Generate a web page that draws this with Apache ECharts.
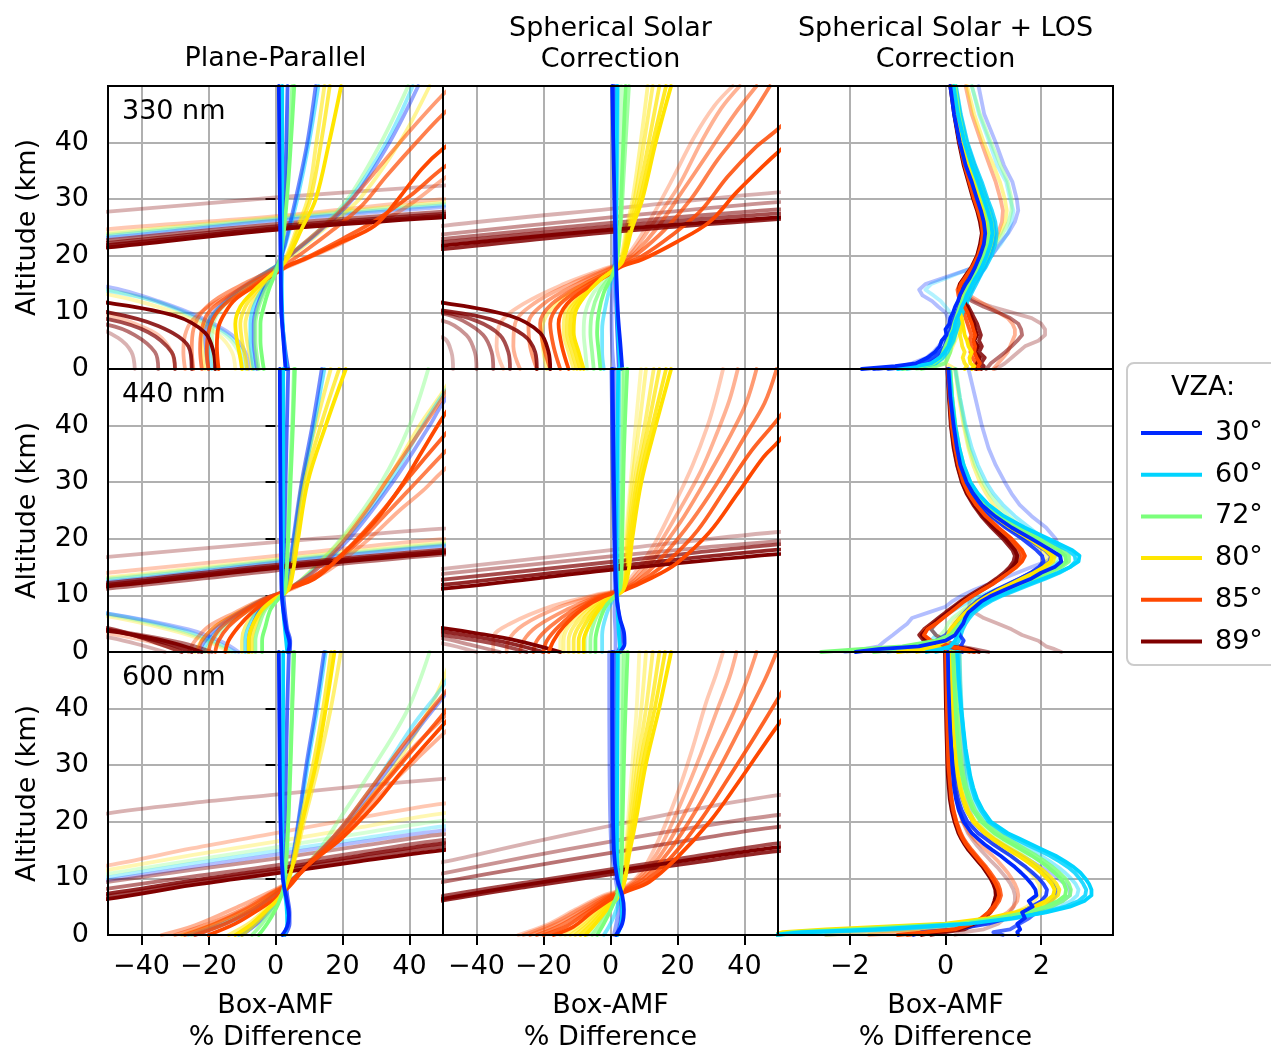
<!DOCTYPE html>
<html>
<head>
<meta charset="utf-8">
<script src="https://cdn.jsdelivr.net/npm/echarts@6/dist/echarts.min.js"></script>
<style>
html,body{margin:0;padding:0;background:#fff;}
#chart{width:1271px;height:1052px;}
</style>
</head>
<body>
<div id="chart"></div>
<script>
// ---- labels and ticks ----
const VZA_LABELS = {30:'30°', 60:'60°', 72:'72°', 80:'80°', 85:'85°', 89:'89°'};
const VZA_ORDER = [30, 60, 72, 80, 85, 89];
const COLUMN_TITLES = ['Plane-Parallel', 'Spherical Solar\nCorrection', 'Spherical Solar + LOS\nCorrection'];
const ROW_LABELS = ['330 nm', '440 nm', '600 nm'];
const X_NAME = 'Box-AMF\n% Difference';
const Y_NAME = 'Altitude (km)';
const ALT_TICKS = [0, 10, 20, 30, 40];
const DIFF_TICKS = [-40, -20, 0, 20, 40];
const LOS_TICKS = [-2, 0, 2];

// Each line: [VZA, SZA, [[% difference, altitude km], ...]]
const PP_330 = [
  [89,30,[[-18,0],[-18.5,3],[-21,6.4],[-30,9.4],[-50,11.7],[-80,14],[-95,19],[-50,21.5],[0,24.6],[50,26.8],[90,28.2]]],
  [89,60,[[-25,0],[-26,4],[-35,7.6],[-50,10],[-80,12.5],[-95,19.5],[-50,21.9],[0,24.9],[50,27.1],[90,28.5]]],
  [89,72,[[-30,0],[-31,3],[-38,6.5],[-50,8.8],[-80,11.5],[-95,19.8],[-50,22.3],[0,25.2],[50,27.4],[90,28.8]]],
  [89,80,[[-35,0],[-36,3],[-42,6],[-50,7.8],[-80,10.5],[-95,20],[-50,22.8],[0,25.6],[50,27.8],[90,29.2]]],
  [89,89,[[-42,0],[-43,3],[-47,5.5],[-55,7.5],[-95,12],[-95,26],[-50,27.8],[0,30.3],[50,32.4],[90,33.8]]],
  [85,30,[[-17,0],[-17.5,4],[-17,7.5],[-15,10],[-12,12.3],[-6,14.7],[0,16.9],[3.6,18.2],[8.6,19.4],[19.6,22.4],[29.6,25.3],[36.6,30],[43.6,35.3],[50,38.9],[62,44],[75,50]]],
  [85,60,[[-20,0],[-20.5,3],[-20,6.5],[-18,9.5],[-14,12],[-7,14.6],[0,17.1],[3.5,18.2],[9,19.6],[20,23],[30,26.3],[40,30.5],[50,35.5],[70,44]]],
  [85,72,[[-22,0],[-22.5,3.5],[-22,7],[-20,10],[-15,12.5],[-8,15],[0,17.4],[3,18.5],[8,20.5],[17,24.5],[26,29],[33,34],[42,40],[50,45],[60,50]]],
  [85,80,[[-24.5,0],[-25,3.5],[-24.5,7],[-22,10],[-17,12.6],[-9,15.2],[-1,17.5],[2,18.8],[6,21],[14,25],[22,29.5],[30,35],[40,42],[50,48.5],[53,50]]],
  [85,85,[[-27,0],[-27.5,3],[-27,6],[-25,8.5],[-20,11],[-10,14.2],[0,17],[3.5,18],[9,19.4],[20,22.3],[30,25.5],[40,29],[50,33.5],[70,42]]],
  [85,89,[[-30,0],[-31,3],[-35,6],[-42,8],[-50,9.5],[-80,12],[-95,22],[-50,24.7],[0,27],[50,30],[90,31.5]]],
  [80,30,[[-10,0],[-10.5,2],[-11.5,5],[-12,8],[-10.5,11],[-7,13.5],[-2.5,16],[1.5,18],[4,20],[8,25],[12,30],[16,40],[19.6,50]]],
  [80,72,[[-8.5,0],[-9,2],[-10,5],[-10.5,8],[-9,11],[-6,13.5],[-2,16],[1.3,18],[3.6,20],[7,25],[10.4,30],[13.6,40],[16.2,50]]],
  [80,80,[[-7,0],[-7.5,2],[-8.5,5],[-9,8],[-7.5,11],[-5,13.5],[-1.8,16],[1.2,18],[3.3,20],[6.5,25],[9.6,30],[12.2,40],[14.6,50]]],
  [80,85,[[-21,0],[-21.5,2],[-22,6],[-19.5,9],[-15.5,11.5],[-10.5,14],[-4.5,16.5],[1,18.5],[6,20.5],[14,24.5],[25,30],[37,40],[46,50]]],
  [80,89,[[-12,0],[-13,3],[-17,6],[-26,9],[-38,11.5],[-50,13.2],[-80,16],[-95,21],[-50,24],[0,26.8],[50,29.5],[90,31]]],
  [72,30,[[-3.5,0],[-4,2],[-4.5,5],[-4.5,8],[-3.5,11],[-2,14],[0,17],[1.6,20],[3.4,30],[4.6,40],[5.6,50]]],
  [72,72,[[-5,0],[-5.5,2],[-6,5],[-6,8],[-5,11],[-3,14],[-0.5,17],[1.6,20],[3,30],[4,40],[5,50]]],
  [72,85,[[-18,0],[-18.5,2],[-19,6],[-18,9],[-15,11.5],[-10,14],[-4,16.5],[1,18.5],[5,20.5],[12,24],[21.5,30],[31.5,40],[39.6,50]]],
  [72,89,[[-10,0],[-11,3],[-15,6],[-24,9],[-36,12],[-50,14],[-80,17],[-95,21],[-50,23.8],[0,26.6],[50,29.2],[90,30.6]]],
  [60,30,[[3.3,0],[2.6,4],[2,10],[1.8,20],[2,35],[2,50]]],
  [60,80,[[-6.5,0],[-7,2],[-7.5,5],[-7.5,8],[-6.5,11],[-4,14],[-1,16.5],[1.2,19],[3,22],[6.5,30],[10,40],[12.8,50]]],
  [60,85,[[-19,0],[-19.5,2],[-20,6],[-19,9],[-15.5,11.5],[-10.5,14],[-4,16.5],[1,18.5],[5,20.5],[12.2,24],[22.2,30],[33,40],[41,50]]],
  [60,89,[[-9,0],[-10,3],[-14,6],[-23,9],[-36,12],[-50,13.8],[-80,16.5],[-95,21],[-50,23.5],[0,26.4],[50,28.9],[90,30.3]]],
  [30,30,[[3,0],[2.5,4],[1.8,10],[1.5,20],[1.2,35],[1,50]]],
  [30,72,[[3.8,0],[2.8,4],[1.6,12],[2,20],[3,35],[3.6,50]]],
  [30,80,[[-5.5,0],[-6,2],[-6.5,5],[-6.5,8],[-5.5,11],[-3.5,14],[-1,16.5],[1,19],[2.8,22],[6,30],[9.5,40],[12,50]]],
  [30,85,[[-20,0],[-20.5,2],[-21,6],[-19.5,9],[-16,11.5],[-11,14],[-4.5,16.5],[1,18.5],[5.2,20.5],[12.5,24],[23,30],[34,40],[42.6,50]]],
  [30,89,[[-8,0],[-9,3],[-13,6],[-22,9],[-35,12],[-50,14.5],[-80,17],[-95,21],[-50,23.2],[0,26.2],[50,28.6],[90,30]]]
];

const PP_440 = [
  [89,30,[[-22,0],[-30,1.5],[-40,2.8],[-50,3.7],[-80,6],[-95,9.5],[-50,11.6],[0,14.8],[50,17.5],[90,19]]],
  [89,60,[[-25,0],[-33,1.6],[-42,2.9],[-50,3.9],[-80,6.2],[-95,9.7],[-50,11.9],[0,15.1],[50,17.8],[90,19.3]]],
  [89,72,[[-28,0],[-36,1.7],[-50,4.2],[-80,6.5],[-95,10],[-50,12.2],[0,15.4],[50,18.1],[90,19.6]]],
  [89,80,[[-19,0],[-28,1.6],[-40,3],[-50,3.9],[-80,6],[-95,9.3],[-50,11.2],[0,14.4],[50,17.2],[90,18.7]]],
  [89,89,[[-33,0],[-42,1.5],[-50,2.6],[-80,5],[-95,14],[-50,16.8],[0,19.4],[50,21.8],[90,23]]],
  [85,30,[[-15,0],[-14,2],[-11,4.5],[-7,7],[-2,9.3],[2,10.5],[4,11.2],[11.6,12.9],[19.6,17],[29.6,23],[37.6,29.4],[43.6,35.3],[50,41.5],[60,50]]],
  [85,60,[[-18,0],[-17,2],[-14,4.5],[-9,7],[-3,9.3],[2,10.5],[5,11.5],[13,14],[22,18.5],[32,25],[40,31],[50,38],[65,48]]],
  [85,72,[[-20,0],[-19,2],[-16,4.5],[-10,7],[-3,9.3],[2,10.5],[6,11.6],[14,14.2],[24,19],[34,25],[42,30],[50,35],[70,47]]],
  [85,80,[[-23,0],[-22,2],[-18,4.5],[-11,7],[-3,9.5],[2,10.6],[5,11.6],[11,14],[18,18],[26,24],[34,31],[42,38],[50,45],[55,50]]],
  [85,85,[[-26,0],[-24,2],[-20,4.5],[-12,7],[-4,9.3],[2,10.5],[7,11.7],[16,14.5],[27,19.5],[37,25],[44,28.5],[50,32],[75,45]]],
  [85,89,[[-28,0],[-36,1.6],[-50,3.3],[-80,6],[-95,11.5],[-50,14],[0,17],[50,20],[90,21.5]]],
  [80,30,[[-8,0],[-8,2],[-7,4.5],[-4,7.5],[0,9.5],[3,10.5],[4.5,12],[6.6,19.4],[9.6,30],[15,40],[21,50]]],
  [80,72,[[-7,0],[-7,2],[-6,4.5],[-3.5,7.5],[0,9.5],[3,10.5],[4.2,12],[6,19.4],[8.8,30],[13.5,40],[19,50]]],
  [80,80,[[-10,0],[-10,2],[-9,4.5],[-5.5,7.5],[-0.5,9.5],[2.8,10.5],[4,12],[5.6,19.4],[8,30],[12,40],[16.5,50]]],
  [80,85,[[-24,0],[-22,2],[-18,4.5],[-11,7],[-3,9.5],[2,10.5],[5,11.5],[10,14],[20,20],[33,30],[43,40],[50,46],[54,50]]],
  [80,89,[[-14,0],[-20,1.8],[-32,4],[-50,6.3],[-80,8.5],[-95,11],[-50,13.2],[0,16.4],[50,19.3],[90,20.8]]],
  [72,30,[[-4,0],[-4,2],[-3,4.5],[-1.5,7.5],[1,9.5],[2.6,10.5],[3.2,13],[3.8,20],[4.5,30],[5.2,40],[5.8,50]]],
  [72,72,[[-6,0],[-6,2],[-5,4.5],[-3,7.5],[0.5,9.5],[2.5,10.5],[3,13],[3.6,20],[4.2,30],[5,40],[5.5,50]]],
  [72,85,[[-21,0],[-19,2],[-15,4.5],[-9,7],[-2,9.5],[2,10.5],[5,11.5],[10,14],[19.6,20],[31.6,30],[40,40],[45.6,50]]],
  [72,89,[[-13,0],[-19,1.8],[-30,4],[-50,6.6],[-80,9],[-95,11],[-50,13],[0,16.2],[50,19.1],[90,20.6]]],
  [60,30,[[3.5,0],[3,3],[2.2,8],[2,11],[2.2,20],[2.3,35],[2.3,50]]],
  [60,80,[[-9,0],[-9,2],[-8,4.5],[-5,7.5],[-0.5,9.5],[2.6,10.5],[3.8,12],[5.4,19.4],[8.2,30],[11.5,40],[14.6,50]]],
  [60,85,[[-22,0],[-20,2],[-16,4.5],[-10,7],[-2.5,9.5],[2,10.5],[5,11.5],[10.5,14],[21,20],[34,30],[44,40],[50,45.5],[56,50]]],
  [60,89,[[-12,0],[-18,1.8],[-28,4],[-50,6.8],[-80,9],[-95,11],[-50,12.8],[0,16],[50,18.9],[90,20.4]]],
  [30,30,[[3.8,0],[4.2,1.5],[3.2,4],[2.2,8],[1.8,11],[1.6,20],[1.4,35],[1.3,50]]],
  [30,72,[[4.3,0],[4.4,2],[3.5,4],[2.5,9],[2.2,12],[2.6,20],[3.2,35],[3.8,50]]],
  [30,80,[[-8,0],[-8,2],[-7,4.5],[-4.5,7.5],[-0.5,9.5],[2.6,10.5],[3.6,12],[5.2,19.4],[7.8,30],[11,40],[13.8,50]]],
  [30,85,[[-23,0],[-21,2],[-17,4.5],[-10.5,7],[-3,9.5],[2,10.5],[5,11.5],[11,14],[22,20],[35,30],[46,40],[50,44],[58,50]]],
  [30,89,[[-11,0],[-16,1.8],[-26,4],[-50,6.8],[-80,9],[-95,10.8],[-50,12.4],[0,15.8],[50,18.7],[90,20.2]]]
];

const PP_600 = [
  [89,30,[[-95,3],[-50,6.4],[-25,8.8],[0,10.9],[25,13],[50,15],[90,17.5]]],
  [89,60,[[-95,4],[-50,7.3],[-25,9.6],[0,11.7],[25,14],[50,16.2],[90,18.5]]],
  [89,72,[[-95,3.5],[-50,6.9],[-25,9.2],[0,11.3],[25,13.5],[50,15.6],[90,18]]],
  [89,80,[[-95,4.5],[-50,8.2],[-25,10.3],[0,12.3],[25,14.6],[50,16.8],[90,19]]],
  [89,85,[[-95,5.5],[-50,9.4],[-25,11.5],[0,13.5],[25,15.7],[50,17.8],[90,20]]],
  [89,89,[[-95,17],[-50,21.5],[-25,23.3],[0,24.8],[25,26.3],[50,27.6],[90,29.5]]],
  [85,89,[[-95,8],[-50,12.3],[-25,15.3],[0,18],[25,20.7],[50,23.2],[90,26]]],
  [80,89,[[-95,7],[-50,11.5],[-25,14.1],[0,16.5],[25,19],[50,21.5],[90,24]]],
  [72,89,[[-95,6.5],[-50,10.8],[-25,13.2],[0,15.5],[25,17.9],[50,20.2],[90,22.5]]],
  [60,89,[[-95,6],[-50,10.2],[-25,12.6],[0,14.8],[25,17],[50,19.2],[90,21.5]]],
  [30,89,[[-95,5.5],[-50,9.7],[-25,12],[0,14.2],[25,16.4],[50,18.5],[90,20.8]]],
  [85,30,[[-20,0],[-12,2],[-5,4.5],[0,6.5],[4,8.5],[9.6,12.3],[19.6,17],[29.6,23],[37.6,28.8],[50,37.1],[65,47]]],
  [85,60,[[-24,0],[-15,2],[-7,4.5],[-1,6.8],[4,9],[10,12.5],[20,18],[30,25],[40,32],[50,39],[62,48]]],
  [85,72,[[-27,0],[-18,2],[-9,4.5],[-2,7],[4,9.2],[10,12.8],[19,18.5],[28,25.5],[38,33.5],[50,42.4],[58,48]]],
  [85,80,[[-30,0],[-20,2],[-10,4.5],[-2.5,7],[4,9.3],[11,13],[21,19],[31,26],[41,33],[50,38.3],[66,48]]],
  [85,85,[[-34,0],[-24,1.7],[-10,5.3],[-2,7.5],[4,9.4],[12,13.2],[22,19],[32,25.2],[42,31],[50,35.5],[70,46]]],
  [80,30,[[-12,0],[-7,2],[-2.5,4.5],[1,6.5],[3,8.5],[5,12],[8,20],[12,30],[15,40],[17.6,50]]],
  [80,72,[[-10,0],[-6,2],[-2,4.5],[1.2,6.5],[3,8.5],[4.8,12],[7.5,20],[11.2,30],[14.2,40],[16.6,50]]],
  [80,80,[[-14,0],[-8,2],[-3,4.5],[0.8,6.5],[3,8.5],[5.2,12],[8.5,20],[12.8,30],[16.5,40],[19.5,50]]],
  [80,85,[[-28,0],[-18,2],[-8,4.5],[-1.5,7],[3.5,9],[9,12],[18,17.5],[28,24],[38,32],[46,40],[50,45],[53,50]]],
  [72,30,[[-5,0],[-2.5,2],[0,4.5],[1.5,6.5],[2.5,8.5],[3,12],[3.8,20],[4.5,30],[5,40],[5.6,50]]],
  [72,72,[[-7,0],[-4,2],[-1,4.5],[1,6.5],[2.5,8.5],[3.2,12],[3.8,20],[4.3,30],[4.9,40],[5.3,50]]],
  [72,85,[[-25,0],[-15,2],[-6,4.5],[-0.5,7],[4,9.3],[8.5,12],[13,15],[18.6,20],[29.6,30],[39.6,40],[46,50]]],
  [60,30,[[2.5,0],[3.5,2],[3.3,5],[2.5,9],[2,15],[2.2,30],[2.3,50]]],
  [60,80,[[-11,0],[-6,2],[-2,4.5],[1,6.5],[3,8.5],[4.8,12],[7,20],[9.6,30],[12.5,40],[15,50]]],
  [60,85,[[-26,0],[-16,2],[-7,4.5],[-1,7],[4,9.3],[9,12],[19,18.5],[31,28],[41,37],[50,44],[56,50]]],
  [30,30,[[2,0],[3.5,1.5],[4,3.5],[3.4,6],[2.2,10],[1.5,20],[1.2,35],[1,50]]],
  [30,72,[[2.8,0],[4.2,2],[4.2,4],[3.5,7],[2.8,12],[3,25],[3.5,40],[4,50]]],
  [30,80,[[-10,0],[-5.5,2],[-1.5,4.5],[1.2,6.5],[3,8.5],[4.6,12],[6.8,20],[9.2,30],[12,40],[14.5,50]]],
  [30,85,[[-24,0],[-15,2],[-6,4.5],[-0.5,7],[4,9.3],[9,12],[20,19],[32,28],[42,36],[50,42],[58,48]]]
];

const SS_330 = [
  [89,30,[[-18,0],[-18.5,3],[-21,6.4],[-30,9.4],[-50,11.7],[-80,14],[-95,19],[-50,21.8],[0,24.6],[50,26.8],[90,28.2]]],
  [89,60,[[-22,0],[-22.5,3],[-26,6],[-36,8.8],[-50,10.3],[-80,12.5],[-95,19],[-50,21.2],[0,24.2],[50,26.5],[90,27.9]]],
  [89,72,[[-30,0],[-30.5,3],[-33,6],[-40,8.5],[-50,10],[-80,12],[-95,20],[-50,22.4],[0,25.2],[50,27.5],[90,28.9]]],
  [89,80,[[-35,0],[-35.5,3],[-38,6],[-44,8.5],[-50,9.8],[-80,12],[-95,20.5],[-50,23],[0,25.8],[50,28.2],[90,29.6]]],
  [89,85,[[-40,0],[-40.5,3],[-43,6],[-50,8.5],[-80,11],[-95,21],[-50,23.8],[0,26.8],[50,29.5],[90,31]]],
  [89,89,[[-47,0],[-47.5,3],[-50,5.5],[-80,9],[-95,22],[-50,25.3],[0,28.3],[50,31.2],[90,32.6]]],
  [85,30,[[-12.5,0],[-14.5,4],[-15.5,8],[-13,11.5],[-6,14.7],[0,16.9],[3.6,18.2],[9.6,19.4],[19.6,22.4],[29.6,26],[37.6,31.2],[45.6,35.9],[50,38.3],[65,46]]],
  [85,60,[[-15,0],[-17,4],[-18,8],[-15,11.5],[-7,14.8],[0,17.1],[3.5,18.3],[9,19.8],[18,23.5],[27,28],[35,34],[43,39],[50,42.4],[58,47]]],
  [85,72,[[-18,0],[-20,4],[-21,8],[-17.5,11.5],[-8,15],[0,17.3],[3.2,18.4],[8,20.3],[16,24.5],[24,30],[32,37],[40,43],[47.6,50]]],
  [85,80,[[-22,0],[-24,4],[-24.5,8],[-20,11.5],[-10,15],[-1,17.5],[3,18.5],[7.5,20.6],[14,25],[21,31],[29,38],[37,45],[43.6,50]]],
  [85,85,[[-27,0],[-29,4],[-28.5,8],[-23,11.5],[-12,15],[-1.5,17.6],[2.8,18.6],[7,21],[13,26],[20,32],[27,40],[33,46],[38.6,50]]],
  [85,89,[[-32,0],[-34,4],[-33,8],[-26,11.5],[-14,15],[-2,17.7],[2.6,18.7],[6.5,21.2],[12,26.5],[18,33],[25,41],[31,46.5],[36.5,50]]],
  [80,30,[[-8,0],[-9.5,3],[-11,6.5],[-10.5,10],[-7.5,13],[-3,15.8],[1,17.5],[3.6,19],[6.5,25],[9.5,30],[13.5,40],[18.1,50]]],
  [80,60,[[-9,0],[-10.5,3],[-12,6.5],[-11.5,10],[-8,13],[-3,15.8],[1,17.5],[3.4,19],[6,25],[8.8,30],[12.6,40],[16.6,50]]],
  [80,72,[[-10,0],[-11.5,3],[-13,6.5],[-12.5,10],[-8.5,13],[-3.5,15.8],[0.8,17.5],[3.2,19],[5.6,25],[8,30],[11.4,40],[14.6,50]]],
  [80,80,[[-11,0],[-12.5,3],[-14,6.5],[-13.5,10],[-9,13],[-3.5,15.8],[0.8,17.5],[3,19],[5.2,25],[7.2,30],[10,40],[12.6,50]]],
  [80,85,[[-19,0],[-20,3],[-20.5,6.5],[-18.5,10],[-12,13.5],[-4.5,16],[0.5,17.6],[2.8,19],[4.8,25],[6.6,30],[9,40],[11.1,50]]],
  [72,30,[[-3,0],[-3.5,3],[-4,6.5],[-3.5,10],[-2,13.5],[0.5,16.5],[1.8,19],[2.8,25],[3.5,35],[4.5,50]]],
  [72,72,[[-5,0],[-5.5,3],[-6,6.5],[-5.5,10],[-3.5,13.5],[0,16.5],[1.8,19],[3,25],[4,35],[5.5,50]]],
  [72,85,[[-7,0],[-7.5,3],[-8,6.5],[-7.5,10],[-5,13.5],[-0.5,16.5],[1.8,19],[2.5,25],[3,35],[3.2,50]]],
  [60,30,[[3,0],[2.5,4],[2,10],[1.6,20],[1.8,35],[2,50]]],
  [60,80,[[-2,0],[-2.5,3],[-2.5,7],[-1.5,11],[0,15],[1.4,19],[1.8,30],[2.2,50]]],
  [30,30,[[3.5,0],[3,4],[2.2,10],[1.6,20],[1,35],[0.5,50]]],
  [30,72,[[2.5,0],[2.2,4],[1.8,10],[1.4,20],[1.2,35],[1,50]]],
  [30,85,[[1,0],[0.5,4],[0.3,10],[1,18],[1.2,35],[1.5,50]]]
];

const SS_440 = [
  [89,30,[[-15,0],[-28,2],[-40,3.3],[-50,4.2],[-80,6.5],[-95,9.3],[-50,11.2],[0,14.5],[50,17.3],[90,18.8]]],
  [89,60,[[-20,0],[-32,1.8],[-50,3.6],[-80,6],[-95,9.7],[-50,11.9],[0,15.1],[50,18.1],[90,19.6]]],
  [89,72,[[-25,0],[-36,1.6],[-50,3],[-80,5.5],[-95,10.3],[-50,12.8],[0,15.9],[50,19],[90,20.5]]],
  [89,85,[[-33,0],[-42,1.3],[-50,2.4],[-80,5],[-95,11.2],[-50,13.8],[0,16.9],[50,19.6],[90,21]]],
  [89,89,[[-40,0],[-50,1.5],[-80,4],[-95,12],[-50,14.7],[0,18],[50,21.2],[90,22.7]]],
  [85,30,[[-18.4,0],[-17,2],[-14,4.5],[-8.4,7.6],[-2,9.8],[3.6,10.8],[11.6,12.9],[19.6,15.6],[29.6,21.2],[37.6,27.7],[45.6,34.4],[50,37.1],[65,48]]],
  [85,60,[[-20,0],[-19,2],[-15.5,4.5],[-9.5,7.5],[-2.5,9.8],[3.6,10.8],[11,13.2],[18,16.5],[26,21.5],[34,28.5],[42,35.5],[50,41.2],[57,47]]],
  [85,72,[[-23,0],[-22,2],[-18,4.5],[-11,7.5],[-3,9.8],[3.4,10.9],[10,13.5],[16.5,17.5],[24,23],[32,30],[40,38],[46,44],[49.6,50]]],
  [85,80,[[-27,0],[-26,2],[-22,4.5],[-13,7.5],[-3.5,9.9],[3.2,11],[9.5,14],[15.5,18.5],[22,24],[29,31],[36,38.5],[40.5,44],[43.6,50]]],
  [85,85,[[-31,0],[-30.5,2],[-26,4.8],[-15,8],[-4,10],[3,11.1],[9,14.5],[14.5,19],[20.5,25],[27,32],[32,39],[35.5,44.5],[38,50]]],
  [85,89,[[-35,0],[-35,2.5],[-30,5],[-17,8.2],[-4.5,10.1],[2.8,11.2],[8.5,15],[13.5,19.5],[19,26],[24.5,33],[29,40],[31.5,45],[33.6,50]]],
  [80,30,[[-8,0],[-8,2],[-6.5,4.5],[-3.5,7.5],[0.5,9.6],[3.6,10.8],[5.3,14],[6.5,20],[9.2,30],[13.5,40],[18.1,50]]],
  [80,60,[[-9.5,0],[-9.5,2],[-8,4.5],[-4.5,7.5],[0,9.6],[3.5,10.8],[5,14],[6,20],[8.5,30],[12.5,40],[16.6,50]]],
  [80,72,[[-11,0],[-11,2],[-9.5,4.5],[-5.5,7.5],[-0.5,9.6],[3.4,10.8],[4.8,14],[5.6,20],[7.8,30],[11.3,40],[14.6,50]]],
  [80,80,[[-12.5,0],[-12.5,2],[-11,4.5],[-6.5,7.5],[-1,9.7],[3.3,10.8],[4.6,14],[5.2,20],[7.2,30],[10.2,40],[12.9,50]]],
  [80,85,[[-14,0],[-14,2],[-12.5,4.5],[-7.5,7.5],[-1.5,9.7],[3.2,10.8],[4.4,14],[4.9,20],[6.4,30],[8.6,40],[10.6,50]]],
  [80,89,[[-15,0],[-15,2],[-13.5,4.5],[-8.5,7.5],[-2,9.8],[3.1,10.9],[4.2,14],[4.6,20],[6,30],[7.5,40],[9.1,50]]],
  [72,30,[[-4.5,0],[-4.5,2],[-3.5,5],[-1.5,8],[1.5,10],[3,11.5],[3.5,20],[4,35],[5,50]]],
  [72,72,[[-6,0],[-6,2],[-5,5],[-2.5,8],[1,10],[2.8,11.5],[3.2,20],[3.6,35],[4,50]]],
  [72,85,[[-7.5,0],[-7.5,2],[-6.5,5],[-3.5,8],[0.5,10],[2.6,11.5],[3,20],[3.3,35],[3.5,50]]],
  [60,30,[[3,0],[2.4,4],[2,10],[1.8,20],[2,35],[2.3,50]]],
  [60,80,[[-2.5,0],[-2.5,3],[-1,7],[1.2,10],[2.2,12],[2.3,20],[2.4,35],[2.6,50]]],
  [30,30,[[2.8,0],[4.2,1.5],[4,3.5],[2.8,6],[1.8,10],[1.3,20],[0.9,35],[0.6,50]]],
  [30,72,[[2.2,0],[3.2,2],[3.2,4],[2.4,7],[1.6,11],[1.1,20],[0.6,35],[0.3,50]]],
  [30,85,[[1.5,0],[1.5,3],[1.2,7],[1.2,11],[1.2,20],[1.2,35],[1.3,50]]]
];

const SS_600 = [
  [89,30,[[-95,1.5],[-50,6.4],[-25,8.9],[0,11.2],[25,13.4],[50,15.5],[90,17.5]]],
  [89,60,[[-95,1.2],[-50,6.1],[-25,8.5],[0,10.7],[25,12.8],[50,14.8],[90,16.8]]],
  [89,72,[[-95,2],[-50,6.9],[-25,9.3],[0,11.6],[25,13.9],[50,16.2],[90,18.3]]],
  [89,80,[[-95,4.5],[-50,9.4],[-25,12],[0,14.5],[25,16.9],[50,19.1],[90,21.5]]],
  [89,85,[[-95,6],[-50,10.9],[-25,13.8],[0,16.5],[25,19],[50,21.2],[90,23.5]]],
  [89,89,[[-95,8],[-50,12.9],[-25,16.2],[0,19.3],[25,22.2],[50,24.7],[90,27.5]]],
  [85,30,[[-17,0],[-11,1.5],[-5.4,4.1],[0,6.3],[4,7.5],[11.6,9.4],[19.6,13.5],[29.6,20],[37.6,26.5],[50,37.1],[64,48]]],
  [85,60,[[-20,0],[-13,1.6],[-6.5,4.2],[-0.5,6.5],[4,7.7],[11,9.8],[18.5,14],[27.5,20.8],[35.5,28],[43,35],[50,41.8],[56,48]]],
  [85,72,[[-22,0],[-15,1.7],[-7.5,4.3],[-1,6.6],[3.8,7.8],[10.5,10.2],[17.5,14.8],[25.5,22],[33,30],[40,38],[46,45],[49.6,50]]],
  [85,80,[[-24,0],[-16.5,1.8],[-8.5,4.4],[-1.5,6.7],[3.6,7.9],[10,10.5],[16.5,15.5],[23.5,23],[30,31],[36.5,39],[41,45.5],[43.6,50]]],
  [85,85,[[-26,0],[-18,1.8],[-9.5,4.5],[-2,6.8],[3.4,8],[9.5,10.8],[15.5,16.2],[21.5,24],[27,32],[32,40],[35.5,45.5],[37.6,50]]],
  [85,89,[[-27.5,0],[-19,1.8],[-10.5,4.5],[-2.5,6.9],[3.2,8.1],[9,11],[14.5,17],[20,25],[24.5,33],[28.5,41],[31.5,46],[33.6,50]]],
  [80,30,[[-7.5,0],[-4.5,2],[-1,4.5],[2,6.5],[4,9],[5.5,14],[7.5,20],[10.5,30],[14.5,40],[18.1,50]]],
  [80,60,[[-9,0],[-5.5,2],[-1.8,4.5],[1.6,6.5],[3.9,9],[5.2,14],[7,20],[9.6,30],[13.2,40],[16.3,50]]],
  [80,72,[[-10.5,0],[-6.5,2],[-2.5,4.5],[1.2,6.5],[3.8,9],[5,14],[6.5,20],[8.8,30],[12,40],[14.6,50]]],
  [80,80,[[-12,0],[-7.5,2],[-3.2,4.5],[0.8,6.5],[3.7,9],[4.8,14],[6,20],[8,30],[10.6,40],[12.6,50]]],
  [80,85,[[-13.5,0],[-8.5,2],[-3.8,4.5],[0.5,6.5],[3.6,9],[4.6,14],[5.6,20],[7.2,30],[9.2,40],[10.6,50]]],
  [80,89,[[-15,0],[-9.5,2],[-4.5,4.5],[0.2,6.5],[3.5,9],[4.4,14],[5.2,20],[6.5,30],[7.8,40],[8.6,50]]],
  [72,30,[[-4,0],[-2,2],[0.5,5],[2.5,8],[3.2,11],[3.6,20],[4.2,35],[5.1,50]]],
  [72,72,[[-5.5,0],[-3,2],[0,5],[2.2,8],[3,11],[3.3,20],[3.6,35],[4,50]]],
  [72,85,[[-7,0],[-4,2],[-0.5,5],[2,8],[2.8,11],[3.1,20],[3.2,35],[3,50]]],
  [60,30,[[2,0],[3.2,2],[3.5,5],[2.5,9],[1.9,15],[2,30],[2.2,50]]],
  [60,80,[[-2,0],[0,2],[2,5],[2.8,8],[2.2,12],[1.8,25],[1.9,50]]],
  [30,30,[[1.6,0],[3.5,2],[4,4.5],[3.5,7],[2,10],[1,15],[0.6,30],[0.5,50]]],
  [30,72,[[2,0],[3,2.5],[3.3,5],[2.8,7.5],[1.8,11],[1.2,20],[1,35],[1,50]]],
  [30,85,[[1,0],[2,3],[2.3,6],[1.5,10],[0.2,16],[-0.3,30],[-0.4,50]]]
];

// Line-of-sight corrected profiles share one altitude grid (km)
const ALT_LOS = [0,0.5,1,2,3,4,5,6,7,8,9,10,11,12,13,14,15,16,17,18,20,22,24,26,28,30,33,36,40,45,50];

const LOS_330 = [
  [30,30,[-1.75,-1.05,-0.62,-0.38,-0.22,-0.12,-0.08,0.02,0,0.08,0.1,0.16,0.2,0.26,0.3,0.36,0.42,0.5,0.56,0.62,0.72,0.8,0.83,0.8,0.74,0.66,0.55,0.42,0.3,0.18,0.1]],
  [30,60,[-1.5,-0.9,-0.5,-0.25,-0.12,-0.02,0.02,0.08,0.1,0.15,0.18,0.24,0.28,0.33,0.38,0.44,0.5,0.58,0.64,0.72,0.82,0.9,0.93,0.9,0.84,0.76,0.64,0.5,0.36,0.24,0.15]],
  [30,72,[-1.2,-0.7,-0.35,-0.15,-0.05,0.05,0.1,0.15,0.2,0.22,0.28,0.32,0.38,0.42,0.48,0.55,0.6,0.68,0.75,0.82,0.92,1,1.03,1,0.93,0.85,0.73,0.6,0.44,0.3,0.2]],
  [30,89,[-1.4,-0.9,-0.7,-0.4,-0.25,-0.15,-0.05,0,0.05,0.08,0.05,0,-0.15,-0.28,-0.48,-0.55,-0.42,-0.08,0.27,0.62,0.97,1.12,1.31,1.45,1.52,1.49,1.4,1.22,1.05,0.81,0.69]],
  [60,30,[-1,-0.6,-0.3,-0.12,-0.02,0.06,0.1,0.12,0.18,0.2,0.24,0.3,0.34,0.4,0.44,0.5,0.56,0.62,0.7,0.76,0.86,0.94,0.98,0.95,0.88,0.8,0.68,0.55,0.4,0.26,0.17]],
  [60,60,[-0.8,-0.45,-0.2,-0.05,0.04,0.1,0.16,0.2,0.24,0.28,0.32,0.36,0.42,0.46,0.52,0.58,0.64,0.7,0.76,0.84,0.96,1.04,1.07,1.04,0.97,0.88,0.76,0.62,0.46,0.32,0.22]],
  [60,89,[-1.2,-0.8,-0.5,-0.3,-0.15,-0.05,0.02,0.05,0.08,0.1,0.12,0.1,0,-0.1,-0.25,-0.42,-0.3,0,0.3,0.6,0.95,1.15,1.3,1.38,1.42,1.35,1.27,1.08,0.92,0.7,0.55]],
  [72,30,[-0.9,-0.5,-0.25,-0.1,-0.05,0,0.05,0.1,0.15,0.18,0.22,0.26,0.3,0.34,0.4,0.45,0.5,0.56,0.62,0.68,0.8,0.88,0.92,0.9,0.85,0.78,0.66,0.54,0.4,0.28,0.2]],
  [72,60,[-0.5,-0.2,0,0.05,0.1,0.12,0.18,0.2,0.24,0.26,0.3,0.34,0.38,0.42,0.47,0.52,0.58,0.64,0.7,0.77,0.88,0.96,1,0.98,0.92,0.84,0.72,0.58,0.43,0.3,0.2]],
  [72,85,[-0.6,-0.3,-0.1,0,-0.05,0.02,0.05,0.02,0.1,0.15,0.2,0.24,0.3,0.36,0.42,0.48,0.55,0.62,0.7,0.78,0.92,1.05,1.2,1.32,1.38,1.38,1.3,1.15,0.95,0.72,0.55]],
  [80,30,[0.55,0.6,0.52,0.5,0.55,0.48,0.45,0.4,0.38,0.36,0.34,0.3,0.32,0.35,0.38,0.42,0.48,0.54,0.6,0.66,0.76,0.84,0.88,0.86,0.8,0.72,0.6,0.48,0.36,0.24,0.15]],
  [80,60,[0.4,0.45,0.4,0.36,0.4,0.35,0.33,0.3,0.32,0.3,0.3,0.3,0.33,0.37,0.42,0.47,0.53,0.6,0.66,0.73,0.84,0.92,0.95,0.93,0.87,0.79,0.67,0.54,0.4,0.27,0.17]],
  [80,85,[0.2,0.1,0,0.05,0.1,0.15,0.2,0.25,0.3,0.3,0.3,0.32,0.35,0.38,0.42,0.48,0.54,0.6,0.68,0.75,0.9,1.02,1.15,1.25,1.28,1.24,1.14,1,0.8,0.6,0.45]],
  [85,30,[0.7,0.68,0.72,0.65,0.6,0.62,0.58,0.62,0.58,0.55,0.5,0.46,0.4,0.35,0.3,0.28,0.32,0.4,0.48,0.56,0.68,0.75,0.78,0.75,0.68,0.6,0.5,0.4,0.3,0.2,0.12]],
  [85,60,[0.62,0.6,0.64,0.56,0.52,0.55,0.5,0.54,0.5,0.46,0.42,0.38,0.34,0.3,0.27,0.25,0.3,0.38,0.46,0.54,0.66,0.74,0.78,0.76,0.7,0.62,0.52,0.42,0.31,0.2,0.12]],
  [85,85,[1,1.05,1.1,1.2,1.3,1.35,1.4,1.45,1.45,1.4,1.3,1.1,0.9,0.7,0.5,0.4,0.45,0.55,0.65,0.75,0.9,1,1.1,1.18,1.2,1.15,1.05,0.92,0.75,0.55,0.42]],
  [89,30,[0.65,0.7,0.66,0.72,0.62,0.68,0.6,0.66,0.62,0.6,0.55,0.5,0.45,0.38,0.33,0.28,0.3,0.38,0.46,0.55,0.66,0.72,0.76,0.72,0.66,0.58,0.48,0.38,0.28,0.18,0.1]],
  [89,60,[0.75,0.8,0.74,0.82,0.7,0.76,0.7,0.74,0.7,0.66,0.6,0.54,0.48,0.4,0.34,0.3,0.32,0.4,0.48,0.57,0.68,0.74,0.78,0.74,0.68,0.6,0.5,0.4,0.29,0.19,0.11]],
  [89,80,[0.85,0.9,0.95,1.1,1.25,1.38,1.5,1.6,1.58,1.52,1.35,1.1,0.8,0.55,0.4,0.32,0.35,0.42,0.5,0.58,0.68,0.75,0.8,0.78,0.72,0.64,0.52,0.42,0.3,0.2,0.12]],
  [89,89,[1.03,1.15,1.24,1.38,1.52,1.66,1.94,2.08,2.08,2,1.8,1.38,0.97,0.62,0.45,0.35,0.38,0.45,0.52,0.6,0.7,0.78,0.82,0.8,0.75,0.68,0.56,0.45,0.33,0.22,0.14]]
];

const LOS_440 = [
  [30,30,[-1.88,-1.4,-0.56,0,0.2,0.28,0.37,0.41,0.48,0.62,0.76,0.97,1.24,1.52,1.8,2,2.28,2.42,2.39,2.2,1.8,1.38,1.03,0.76,0.58,0.44,0.31,0.24,0.17,0.1,0.06]],
  [30,60,[0.35,0.4,0.32,0.38,0.3,0.25,0.28,0.35,0.42,0.55,0.68,0.85,1.08,1.32,1.56,1.78,1.95,2.05,2.02,1.9,1.6,1.25,0.95,0.7,0.52,0.4,0.28,0.2,0.14,0.08,0.04]],
  [30,72,[0.3,0.1,-0.3,-0.2,0,0.12,0.2,0.3,0.4,0.52,0.66,0.84,1.06,1.3,1.55,1.8,2.02,2.18,2.2,2.08,1.7,1.3,0.98,0.73,0.55,0.42,0.3,0.22,0.15,0.09,0.05]],
  [30,89,[-2.1,-1.7,-1.4,-1.26,-1.1,-0.95,-0.8,-0.7,-0.35,0,0.15,0.35,0.6,0.9,1.2,1.5,1.8,2.1,2.3,2.4,2.3,2.1,1.8,1.55,1.38,1.24,1.05,0.9,0.76,0.62,0.48]],
  [60,30,[-0.4,-0.1,0.1,0.2,0.25,0.3,0.35,0.45,0.55,0.7,0.9,1.15,1.45,1.75,2.05,2.35,2.6,2.78,2.8,2.65,2.15,1.65,1.22,0.9,0.68,0.52,0.38,0.29,0.2,0.13,0.08]],
  [60,60,[-0.2,0.05,0.2,0.28,0.32,0.36,0.42,0.5,0.6,0.76,0.95,1.2,1.5,1.8,2.1,2.38,2.6,2.72,2.7,2.55,2.05,1.58,1.18,0.88,0.66,0.5,0.36,0.27,0.19,0.12,0.07]],
  [60,85,[-1.2,-0.9,-0.6,-0.3,-0.2,-0.3,-0.25,-0.1,0.1,0.3,0.5,0.75,1.05,1.35,1.65,1.95,2.2,2.38,2.42,2.35,2.05,1.75,1.45,1.2,1,0.85,0.68,0.55,0.42,0.3,0.2]],
  [72,30,[-2.6,-1.8,-0.9,-0.2,0.1,0.2,0.3,0.4,0.5,0.62,0.78,1,1.28,1.56,1.85,2.12,2.38,2.52,2.5,2.36,1.95,1.5,1.12,0.84,0.64,0.5,0.36,0.28,0.2,0.14,0.1]],
  [72,60,[-1.5,-1,-0.4,-0.05,0.15,0.25,0.32,0.42,0.52,0.66,0.82,1.04,1.3,1.6,1.9,2.18,2.42,2.58,2.58,2.44,2,1.55,1.16,0.86,0.66,0.52,0.38,0.29,0.21,0.14,0.1]],
  [72,85,[-1.5,-1,-0.6,-0.2,-0.1,0,0.05,0.15,0.3,0.45,0.62,0.85,1.1,1.4,1.7,1.98,2.2,2.32,2.3,2.2,1.9,1.6,1.32,1.1,0.92,0.78,0.62,0.5,0.4,0.3,0.22]],
  [80,30,[-1,-0.5,-0.2,0,0.05,0.1,0.2,0.3,0.42,0.55,0.7,0.9,1.12,1.36,1.6,1.85,2.05,2.2,2.22,2.1,1.75,1.35,1.02,0.78,0.6,0.46,0.34,0.26,0.18,0.12,0.08]],
  [80,60,[-0.6,-0.3,-0.1,0.05,0.1,0.15,0.24,0.34,0.46,0.6,0.76,0.96,1.18,1.42,1.66,1.9,2.1,2.25,2.28,2.16,1.8,1.4,1.06,0.8,0.62,0.48,0.35,0.27,0.19,0.12,0.08]],
  [80,85,[-0.8,-0.5,-0.3,-0.1,0,0.1,0.15,0.25,0.35,0.5,0.65,0.85,1.08,1.32,1.56,1.8,2,2.12,2.12,2.02,1.75,1.45,1.2,1,0.85,0.72,0.58,0.48,0.38,0.28,0.2]],
  [85,30,[0.6,0.4,0.1,-0.3,-0.45,-0.38,-0.2,-0.05,0.1,0.25,0.4,0.58,0.78,0.98,1.15,1.32,1.48,1.6,1.66,1.6,1.38,1.1,0.84,0.64,0.48,0.37,0.27,0.2,0.13,0.09,0.05]],
  [85,60,[0.5,0.3,0,-0.35,-0.5,-0.42,-0.25,-0.08,0.08,0.22,0.38,0.55,0.75,0.95,1.12,1.28,1.44,1.56,1.6,1.55,1.34,1.07,0.82,0.62,0.47,0.36,0.26,0.19,0.13,0.09,0.05]],
  [89,30,[0.7,0.5,0.1,-0.4,-0.5,-0.4,-0.25,-0.1,0.05,0.2,0.35,0.55,0.75,0.95,1.12,1.28,1.4,1.48,1.5,1.45,1.25,1,0.78,0.6,0.45,0.35,0.25,0.18,0.12,0.08,0.05]],
  [89,60,[0.6,0.35,0,-0.45,-0.55,-0.45,-0.3,-0.15,0,0.16,0.32,0.5,0.7,0.9,1.07,1.22,1.34,1.42,1.45,1.4,1.2,0.96,0.75,0.58,0.44,0.34,0.24,0.17,0.11,0.07,0.04]],
  [89,80,[0.9,0.6,0.3,0,-0.2,-0.3,-0.2,-0.1,0.05,0.22,0.38,0.58,0.78,0.98,1.15,1.3,1.42,1.52,1.55,1.5,1.3,1.05,0.82,0.64,0.5,0.38,0.28,0.2,0.14,0.09,0.06]],
  [89,89,[2.42,2.28,2.1,1.94,1.6,1.38,1.1,0.8,0.6,0.5,0.5,0.6,0.75,0.92,1.1,1.25,1.38,1.46,1.5,1.45,1.3,1.08,0.88,0.7,0.56,0.45,0.35,0.26,0.18,0.12,0.08]]
];

const LOS_600 = [
  [30,30,[1.52,1.5,1.56,1.5,1.66,1.6,1.82,1.74,1.9,1.88,1.8,1.7,1.58,1.45,1.3,1.15,0.98,0.82,0.68,0.55,0.38,0.28,0.22,0.18,0.16,0.14,0.12,0.1,0.08,0.06,0.05]],
  [30,60,[-0.67,-0.5,0.2,0.9,1.3,1.55,1.8,2,2.1,2.12,2.05,1.95,1.82,1.68,1.52,1.36,1.18,1,0.84,0.68,0.46,0.34,0.26,0.2,0.17,0.15,0.13,0.11,0.09,0.07,0.06]],
  [30,72,[1.2,1,1.35,1.55,1.75,1.9,2.1,2.22,2.3,2.3,2.24,2.14,2.02,1.88,1.72,1.55,1.36,1.17,0.99,0.83,0.58,0.44,0.35,0.28,0.24,0.21,0.18,0.16,0.13,0.1,0.08]],
  [30,89,[-2.5,-1.8,-0.6,0.6,1.3,1.8,2.2,2.45,2.6,2.6,2.5,2.35,2.2,2,1.8,1.6,1.38,1.15,0.95,0.8,0.6,0.5,0.45,0.42,0.4,0.38,0.36,0.34,0.32,0.3,0.28]],
  [60,30,[-3.6,-3,-1.5,0.5,1.4,2.1,2.6,2.9,3.05,3.05,3,2.92,2.82,2.68,2.5,2.3,2.05,1.8,1.55,1.3,0.95,0.78,0.66,0.58,0.52,0.48,0.42,0.38,0.33,0.28,0.25]],
  [60,60,[-3.6,-2.8,-1.2,0.6,1.45,2.05,2.5,2.78,2.92,2.94,2.88,2.8,2.7,2.56,2.38,2.18,1.94,1.7,1.46,1.24,0.9,0.74,0.62,0.55,0.5,0.46,0.41,0.37,0.32,0.27,0.24]],
  [60,85,[-3.6,-2.6,-1,0.7,1.5,2,2.4,2.62,2.75,2.78,2.72,2.62,2.5,2.35,2.18,2,1.78,1.55,1.35,1.15,0.85,0.68,0.58,0.5,0.46,0.43,0.4,0.37,0.34,0.31,0.29]],
  [72,30,[-3.6,-3.2,-2,0.3,1.1,1.7,2.1,2.35,2.5,2.52,2.48,2.4,2.28,2.14,1.98,1.8,1.6,1.4,1.2,1.02,0.75,0.58,0.48,0.4,0.35,0.31,0.27,0.24,0.21,0.18,0.15]],
  [72,60,[-3.6,-3,-1.8,0.4,1.2,1.8,2.2,2.45,2.6,2.62,2.58,2.5,2.38,2.24,2.08,1.9,1.7,1.5,1.3,1.1,0.8,0.62,0.52,0.44,0.38,0.34,0.3,0.27,0.24,0.2,0.17]],
  [72,85,[-3.6,-2.8,-1.4,0.4,1.1,1.6,1.95,2.15,2.25,2.28,2.25,2.18,2.08,1.95,1.8,1.64,1.46,1.28,1.1,0.95,0.72,0.58,0.5,0.45,0.42,0.4,0.37,0.35,0.33,0.31,0.3]],
  [80,30,[-3.6,-3.4,-2.5,0,0.9,1.45,1.85,2.1,2.25,2.28,2.22,2.12,2,1.86,1.7,1.52,1.33,1.15,0.98,0.82,0.58,0.44,0.36,0.3,0.26,0.23,0.2,0.17,0.14,0.11,0.09]],
  [80,60,[-3.6,-3.2,-2.2,0.2,1,1.55,1.95,2.2,2.35,2.38,2.32,2.22,2.1,1.95,1.78,1.6,1.4,1.2,1.02,0.86,0.62,0.47,0.38,0.32,0.28,0.25,0.22,0.19,0.16,0.13,0.1]],
  [80,85,[-2.5,-1.6,-0.5,0.6,1.1,1.45,1.7,1.85,1.95,1.98,1.95,1.88,1.78,1.66,1.52,1.38,1.22,1.06,0.92,0.8,0.6,0.48,0.42,0.38,0.35,0.32,0.3,0.28,0.26,0.24,0.22]],
  [85,30,[-1,-0.4,0.2,0.55,0.75,0.9,1,1.08,1.12,1.1,1.05,0.98,0.9,0.82,0.72,0.62,0.52,0.43,0.36,0.3,0.22,0.16,0.12,0.1,0.08,0.06,0.05,0.04,0.03,0.02,0.01]],
  [85,60,[-0.8,-0.3,0.25,0.58,0.8,0.94,1.04,1.12,1.16,1.14,1.1,1.02,0.94,0.85,0.75,0.65,0.55,0.46,0.38,0.32,0.23,0.17,0.13,0.1,0.08,0.07,0.06,0.05,0.04,0.03,0.02]],
  [85,85,[-1.6,-0.8,0.1,0.8,1.1,1.3,1.42,1.5,1.52,1.5,1.45,1.38,1.3,1.2,1.1,0.98,0.85,0.72,0.6,0.5,0.36,0.28,0.24,0.21,0.19,0.18,0.17,0.16,0.15,0.14,0.13]],
  [89,30,[-0.5,-0.2,0.3,0.6,0.78,0.9,0.98,1.02,1.05,1.04,1,0.94,0.86,0.78,0.68,0.58,0.48,0.4,0.33,0.27,0.19,0.13,0.09,0.07,0.05,0.04,0.03,0.02,0.01,0,-0.01]],
  [89,60,[-0.3,0,0.4,0.65,0.82,0.94,1.02,1.06,1.08,1.06,1.02,0.96,0.88,0.8,0.7,0.6,0.5,0.42,0.35,0.29,0.21,0.15,0.11,0.09,0.07,0.06,0.05,0.04,0.03,0.02,0.01]],
  [89,89,[0.2,0.4,0.8,1.1,1.25,1.35,1.42,1.45,1.45,1.42,1.36,1.28,1.18,1.08,0.96,0.85,0.74,0.64,0.55,0.47,0.36,0.3,0.26,0.23,0.21,0.2,0.19,0.18,0.17,0.16,0.15]]
];

// ---- styling ----
const VZA_COLORS = {30:'#0029ff', 60:'#00d4ff', 72:'#7bff7b', 80:'#ffe600', 85:'#ff4800', 89:'#800000'};
const SZA_OPACITY = {30:1, 60:0.85, 72:0.7, 80:0.55, 85:0.42, 89:0.3};
const FONT = '"DejaVu Sans", Verdana, sans-serif';
const FS = 27;
const PANEL_LEFT = [108, 443, 778];
const PANEL_TOP = [86, 369, 652];
const PANEL_W = 335, PANEL_H = 283;
const minus = v => String(v).replace('-', '\u2212');

const panels = [
  [PP_330, SS_330, LOS_330],
  [PP_440, SS_440, LOS_440],
  [PP_600, SS_600, LOS_600]
];

const grids = [], xAxes = [], yAxes = [], series = [], graphics = [];

for (let r = 0; r < 3; r++) {
  for (let c = 0; c < 3; c++) {
    const idx = r * 3 + c;
    const isLos = c === 2;
    const xTicks = isLos ? LOS_TICKS : DIFF_TICKS;
    // fixed panel boxes; labels are allowed to sit outside them
    grids.push({left: PANEL_LEFT[c], top: PANEL_TOP[r], width: PANEL_W, height: PANEL_H,
      show: false, containLabel: false, outerBoundsMode: 'none'});
    xAxes.push({
      type: 'value', gridIndex: idx,
      min: isLos ? -3.5 : -50, max: isLos ? 3.5 : 50,
      axisLine: {show: false},
      axisTick: {show: r === 2, customValues: xTicks, length: 10, lineStyle: {color: '#000', width: 2}},
      axisLabel: {show: r === 2, customValues: xTicks, fontSize: FS, fontFamily: FONT, color: '#000', margin: 18, formatter: minus},
      splitLine: {show: true, lineStyle: {color: '#b0b0b0', width: 2}}
    });
    yAxes.push({
      type: 'value', gridIndex: idx, min: 0, max: 50,
      axisLine: {show: false},
      axisTick: {show: c === 0, customValues: ALT_TICKS, length: 10, lineStyle: {color: '#000', width: 2}},
      axisLabel: {show: c === 0, customValues: ALT_TICKS, fontSize: FS, fontFamily: FONT, color: '#000', margin: 19},
      splitLine: {show: true, lineStyle: {color: '#b0b0b0', width: 2}},
      name: c === 0 ? Y_NAME : '',
      nameLocation: 'middle', nameGap: 67,
      nameTextStyle: {fontSize: FS, fontFamily: FONT, color: '#000'}
    });

    // pale lines first, then strong ones; within a shade the small viewing angles end up on top
    const lines = panels[r][c].slice().sort((a, b) =>
      (SZA_OPACITY[a[1]] - SZA_OPACITY[b[1]]) || (b[0] - a[0]));
    lines.forEach(([vza, sza, pts]) => {
      const data = isLos ? pts.map((x, i) => [x, ALT_LOS[i]]) : pts;
      series.push({
        type: 'line', name: VZA_LABELS[vza], xAxisIndex: idx, yAxisIndex: idx,
        data, symbol: 'none', showSymbol: false,
        smooth: isLos ? false : 0.35, clip: true, silent: true, animation: false,
        lineStyle: {color: VZA_COLORS[vza], width: 3.8, opacity: SZA_OPACITY[sza], cap: 'round', join: 'round'},
        emphasis: {disabled: true}
      });
    });

    // panel frame drawn over the curves
    graphics.push({
      type: 'rect', z: 50, silent: true,
      shape: {x: PANEL_LEFT[c], y: PANEL_TOP[r], width: PANEL_W, height: PANEL_H},
      style: {fill: 'none', stroke: '#000', lineWidth: 2}
    });
  }
  graphics.push({
    type: 'text', z: 60, x: PANEL_LEFT[0] + 14, y: PANEL_TOP[r] + 26,
    style: {text: ROW_LABELS[r], font: `${FS}px ${FONT}`, fill: '#000', verticalAlign: 'middle', align: 'left'}
  });
}

COLUMN_TITLES.forEach((t, c) => {
  const twoLines = t.indexOf('\n') >= 0;
  graphics.push({
    type: 'text', z: 60, x: PANEL_LEFT[c] + PANEL_W / 2, y: twoLines ? 44 : 59,
    style: {text: t, font: `${FS}px ${FONT}`, fill: '#000', align: 'center', verticalAlign: 'middle', lineHeight: 31}
  });
  // x-axis caption under each column
  graphics.push({
    type: 'text', z: 60, x: PANEL_LEFT[c] + PANEL_W / 2, y: 1022,
    style: {text: X_NAME, font: `${FS}px ${FONT}`, fill: '#000', align: 'center', verticalAlign: 'middle', lineHeight: 32}
  });
});

// legend frame and heading
graphics.push({
  type: 'rect', z: 1, silent: true,
  shape: {x: 1127, y: 363, width: 170, height: 302, r: 7},
  style: {fill: 'rgba(255,255,255,0.8)', stroke: '#cccccc', lineWidth: 2}
});
graphics.push({
  type: 'text', z: 2, x: 1203, y: 388,
  style: {text: 'VZA:', font: `${FS}px ${FONT}`, fill: '#000', align: 'center', verticalAlign: 'middle'}
});

const chart = echarts.init(document.getElementById('chart'), null, {renderer: 'canvas'});
chart.setOption({
  backgroundColor: '#fff',
  animation: false,
  grid: grids,
  xAxis: xAxes,
  yAxis: yAxes,
  legend: {
    left: 1136, top: 413, orient: 'vertical',
    icon: 'rect', itemWidth: 61, itemHeight: 4, itemGap: 11.7,
    selectedMode: false, z: 5,
    textStyle: {fontSize: FS, fontFamily: FONT, color: '#000', lineHeight: 30, padding: [0, 0, 0, 8]},
    data: VZA_ORDER.map(v => ({
      name: VZA_LABELS[v],
      itemStyle: {color: VZA_COLORS[v], opacity: 1}
    }))
  },
  graphic: {elements: graphics},
  series: series
});
</script>
</body>
</html>
